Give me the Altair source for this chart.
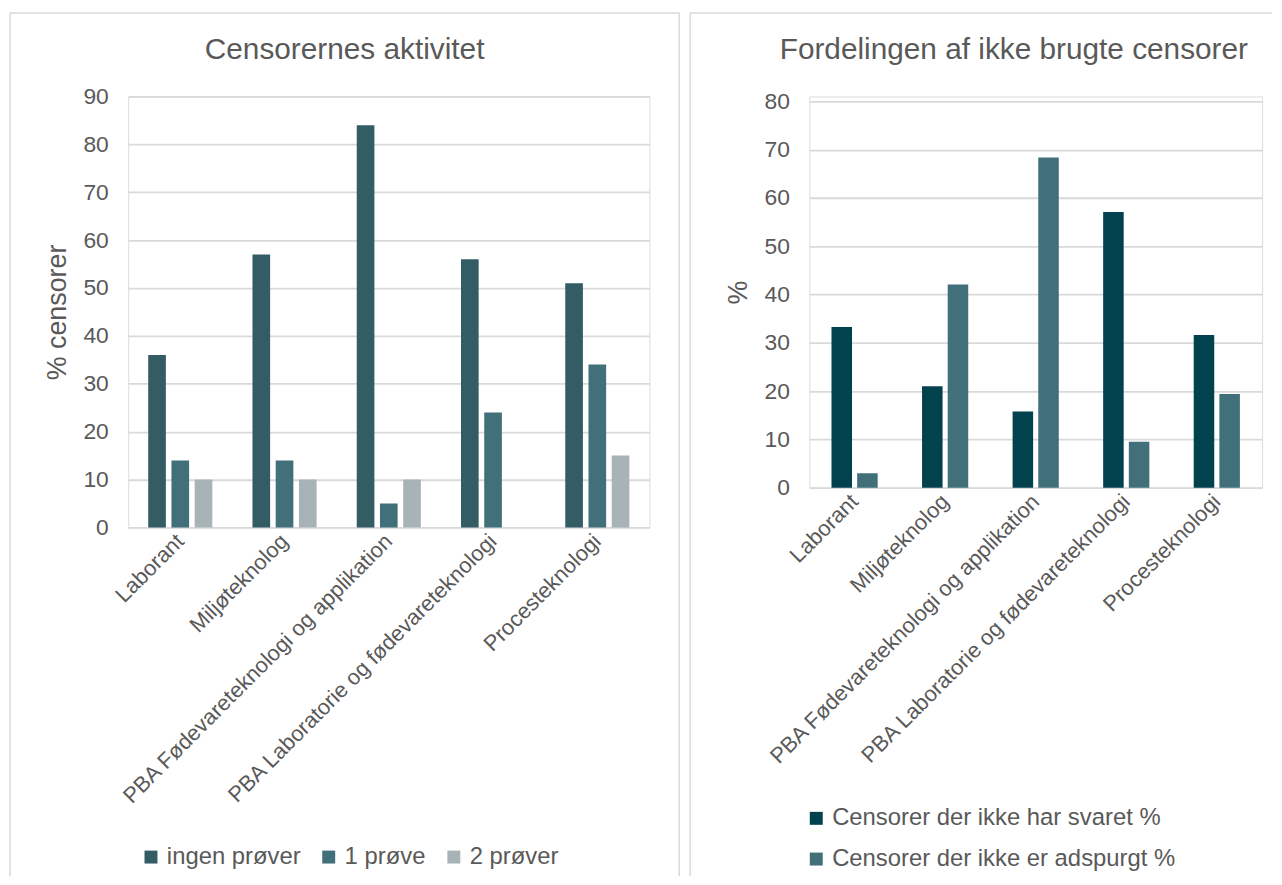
import altair as alt
import pandas as pd

categories = ["Laborant", "Miljøteknolog", "PBA Fødevareteknologi og applikation",
              "PBA Laboratorie og fødevareteknologi", "Procesteknologi"]

# Left chart
left_title = "Censorernes aktivitet"
left_series = ["ingen prøver", "1 prøve", "2 prøver"]
ingen = [36, 57, 84, 56, 51]
en = [14, 14, 5, 24, 34]
to = [10, 10, 10, None, 15]
left_colors = ["#335C64", "#41707B", "#A7B3B7"]

# Right chart
right_title = "Fordelingen af ikke brugte censorer"
right_series = ["Censorer der ikke har svaret %", "Censorer der ikke er adspurgt %"]
svaret = [33.3, 21.0, 15.8, 57.1, 31.6]
adspurgt = [3.0, 42.1, 68.4, 9.5, 19.4]
right_colors = ["#02424F", "#41707B"]

TXT = "#595959"
GRID = "#D9D9D9"
FONT = "Liberation Sans"

rows = []
for s, vals in zip(left_series, [ingen, en, to]):
    for c, v in zip(categories, vals):
        if v is not None:
            rows.append({"cat": c, "series": s, "value": v})
left_df = pd.DataFrame(rows)

rows = []
for s, vals in zip(right_series, [svaret, adspurgt]):
    for c, v in zip(categories, vals):
        rows.append({"cat": c, "series": s, "value": v})
right_df = pd.DataFrame(rows)


def panel(df, series, colors, ydomain, yticks, ytitle, title, w, h, box, right_edge,
          title_xy, legend_cfg, pad_x, pad_off, title_pad):
    bars = alt.Chart(df).mark_bar().encode(
        x=alt.X("cat:N", sort=categories, title=None,
                scale=alt.Scale(paddingInner=pad_x, paddingOuter=pad_x / 2),
                axis=alt.Axis(labelAngle=-45, labelAlign="right", labelBaseline="middle",
                              labelFontSize=22, labelColor=TXT, labelFont=FONT,
                              labelPadding=10, labelLimit=600, ticks=False, domain=False,
                              grid=False)),
        xOffset=alt.XOffset("series:N", sort=series,
                            scale=alt.Scale(paddingInner=pad_off, paddingOuter=0)),
        y=alt.Y("value:Q", title=ytitle,
                scale=alt.Scale(domain=ydomain, nice=False),
                axis=alt.Axis(values=yticks, grid=True,
                              gridColor=GRID, gridWidth=1.8, ticks=False, domain=False,
                              labelFontSize=23, labelColor=TXT, labelFont=FONT,
                              labelPadding=20, titleFontSize=27, titleColor=TXT,
                              titleFont=FONT, titleFontWeight="normal",
                              titlePadding=title_pad)),
        color=alt.Color("series:N", sort=series,
                        scale=alt.Scale(domain=series, range=colors),
                        legend=alt.Legend(title=None, orient="none", symbolType="square",
                                          symbolSize=170, symbolStrokeWidth=0,
                                          labelFontSize=24, labelColor=TXT, labelFont=FONT,
                                          labelOffset=4, labelLimit=600, **legend_cfg)),
    )
    one = pd.DataFrame({"a": [0]})
    rule = dict(stroke=GRID, strokeWidth=1.5)
    x0, x1, y0, y1 = box
    edges = [
        alt.Chart(one).mark_rule(**rule).encode(
            x=alt.value(x0), y=alt.value(y0), y2=alt.value(y1)),
        alt.Chart(one).mark_rule(**rule).encode(
            x=alt.value(x0), x2=alt.value(x1), y=alt.value(y0)),
    ]
    if right_edge:
        edges.append(alt.Chart(one).mark_rule(**rule).encode(
            x=alt.value(x1), y=alt.value(y0), y2=alt.value(y1)))
    ttl = alt.Chart(pd.DataFrame({"t": [title]})).mark_text(
        fontSize=30, color=TXT, font=FONT, align="center", baseline="middle"
    ).encode(x=alt.value(title_xy[0]), y=alt.value(title_xy[1]), text="t:N")
    return alt.layer(*edges, bars, ttl).properties(width=w, height=h)


left = panel(left_df, left_series, left_colors, [0, 90], list(range(0, 91, 10)),
             "% censorer", left_title,
             525, 434, (-119, 555, -84, 785), True, (218, -47),
             dict(direction="horizontal", legendX=11, legendY=754, columnPadding=16),
             0.385, 0.24, 12)

# right plot area starts 5px lower than the left one: add that gap to the domain
right = panel(right_df, right_series, right_colors, [0, 80 * 394 / 389],
              list(range(0, 81, 10)), "%", right_title,
              456, 394, (-120, 466, -84, 785), False, (206, -47),
              dict(direction="vertical", legendX=-5, legendY=715, rowPadding=17),
              0.49, 0.2, 12)

chart = alt.hconcat(left, right, spacing=7).resolve_scale(
    color="independent", y="independent", x="independent", xOffset="independent"
).properties(
    padding={"left": 0, "top": 0, "right": 0, "bottom": 0}
).configure_view(stroke=None).configure(background="white")

chart.save("out.html", embed_options={"renderer": "svg", "actions": False})
